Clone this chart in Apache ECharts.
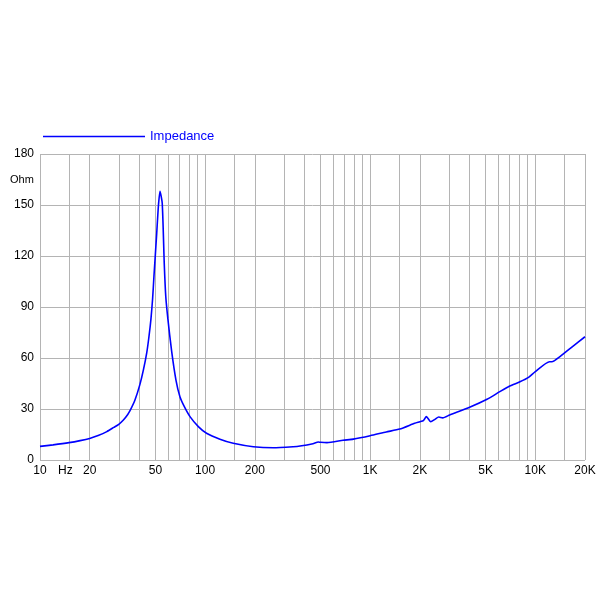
<!DOCTYPE html>
<html>
<head>
<meta charset="utf-8">
<script src="https://cdn.jsdelivr.net/npm/echarts@6/dist/echarts.min.js"></script>
<style>
  html, body { margin: 0; padding: 0; background: #fff; }
  #main { width: 605px; height: 605px; }
</style>
</head>
<body>
<div id="main"></div>
<script>
// frequency (Hz) and impedance (Ohm)
var freqs = [10, 12, 15, 17.5, 20, 22.5, 25.4, 28, 30, 32, 34, 35.1, 37.6, 40.3, 42.3, 44.3, 45.7, 47, 48.1, 49,
    50.9, 52.1, 53.3, 55, 56.6, 57.8, 59.5, 62.7, 66.6, 70.4, 75, 81, 91, 102, 123,
    148, 196, 259, 342, 376, 450, 485, 500, 547, 685, 790, 1000, 1250, 1510, 1860, 2000, 2100,
    2190, 2325, 2466, 2600, 2750, 3030, 4000, 5100, 6100, 7000, 8070, 9100, 10000, 12200, 12600,
    14100, 16800, 20000];
var impedance = [8, 8.9, 10.2, 11.4, 12.7, 14.4, 16.7, 19.2, 21, 23.5, 26.8, 29, 35.3, 44.5, 53, 63, 72.5, 83, 95, 108,
    133, 149, 158, 151, 115, 96, 83, 64, 47, 37.2, 31.2, 25.5, 19.6, 15.7, 12.2,
    9.8, 7.8, 7.2, 7.8, 8.2, 9.6, 10.6, 10.4, 10.2, 11.6, 12.3, 14.3, 16.5, 18.2, 21.6, 22.5, 23.2,
    25.5, 22.5, 23.9, 25.3, 24.8, 26.5, 31, 35.7, 40.2, 43.5, 46, 48.6, 52, 57.8, 57.8,
    60.8, 66.7, 72.5];

var gridFreqs = [10, 15, 20, 30, 40, 50, 60, 70, 80, 90, 100, 150, 200, 300, 400, 500, 600, 700, 800, 900,
    1000, 1500, 2000, 3000, 4000, 5000, 6000, 7000, 8000, 9000, 10000, 15000, 20000];
var labelFreqs = [10, 20, 50, 100, 200, 500, 1000, 2000, 5000, 10000, 20000];

var points = [];
for (var i = 0; i < freqs.length; i++) {
    points.push([freqs[i], impedance[i]]);
}

var font = 'Liberation Sans, Arial, sans-serif';
var chart = echarts.init(document.getElementById('main'));
chart.setOption({
    animation: false,
    textStyle: { fontFamily: font },
    grid: { left: 40, right: 20, top: 154, bottom: 145 },
    legend: {
        left: 43,
        top: 130,
        padding: 0,
        icon: 'rect',
        itemWidth: 102,
        itemHeight: 1.5,
        itemGap: 4,
        textStyle: { color: '#0000ff', fontSize: 13, fontFamily: font, padding: [0, 0, 0, 0] },
        data: ['Impedance']
    },
    xAxis: {
        type: 'log',
        logBase: 10,
        min: 10,
        max: 20000,
        axisLine: { show: false },
        axisTick: { show: false, customValues: gridFreqs },
        splitLine: { show: true, lineStyle: { color: '#b4b4b4', width: 1 } },
        axisLabel: {
            customValues: labelFreqs,
            color: '#000',
            fontSize: 12,
            margin: 5,
            formatter: function (v) {
                return v >= 1000 ? (v / 1000) + 'K' : String(v);
            }
        }
    },
    yAxis: {
        type: 'value',
        min: 0,
        max: 180,
        interval: 30,
        axisLine: { show: false },
        axisTick: { show: false },
        splitLine: { lineStyle: { color: '#b4b4b4', width: 1 } },
        axisLabel: { color: '#000', fontSize: 12, margin: 6 }
    },
    graphic: [
        { type: 'text', left: 10, top: 174, style: { text: 'Ohm', fill: '#000', fontSize: 11, fontFamily: font } },
        { type: 'text', left: 58, top: 465, style: { text: 'Hz', fill: '#000', fontSize: 12, fontFamily: font } }
    ],
    series: [{
        name: 'Impedance',
        type: 'line',
        data: points,
        symbol: 'none',
        smooth: 0.2,
        lineStyle: { color: '#0000ff', width: 1.6 },
        itemStyle: { color: '#0000ff' }
    }]
});
</script>
</body>
</html>
